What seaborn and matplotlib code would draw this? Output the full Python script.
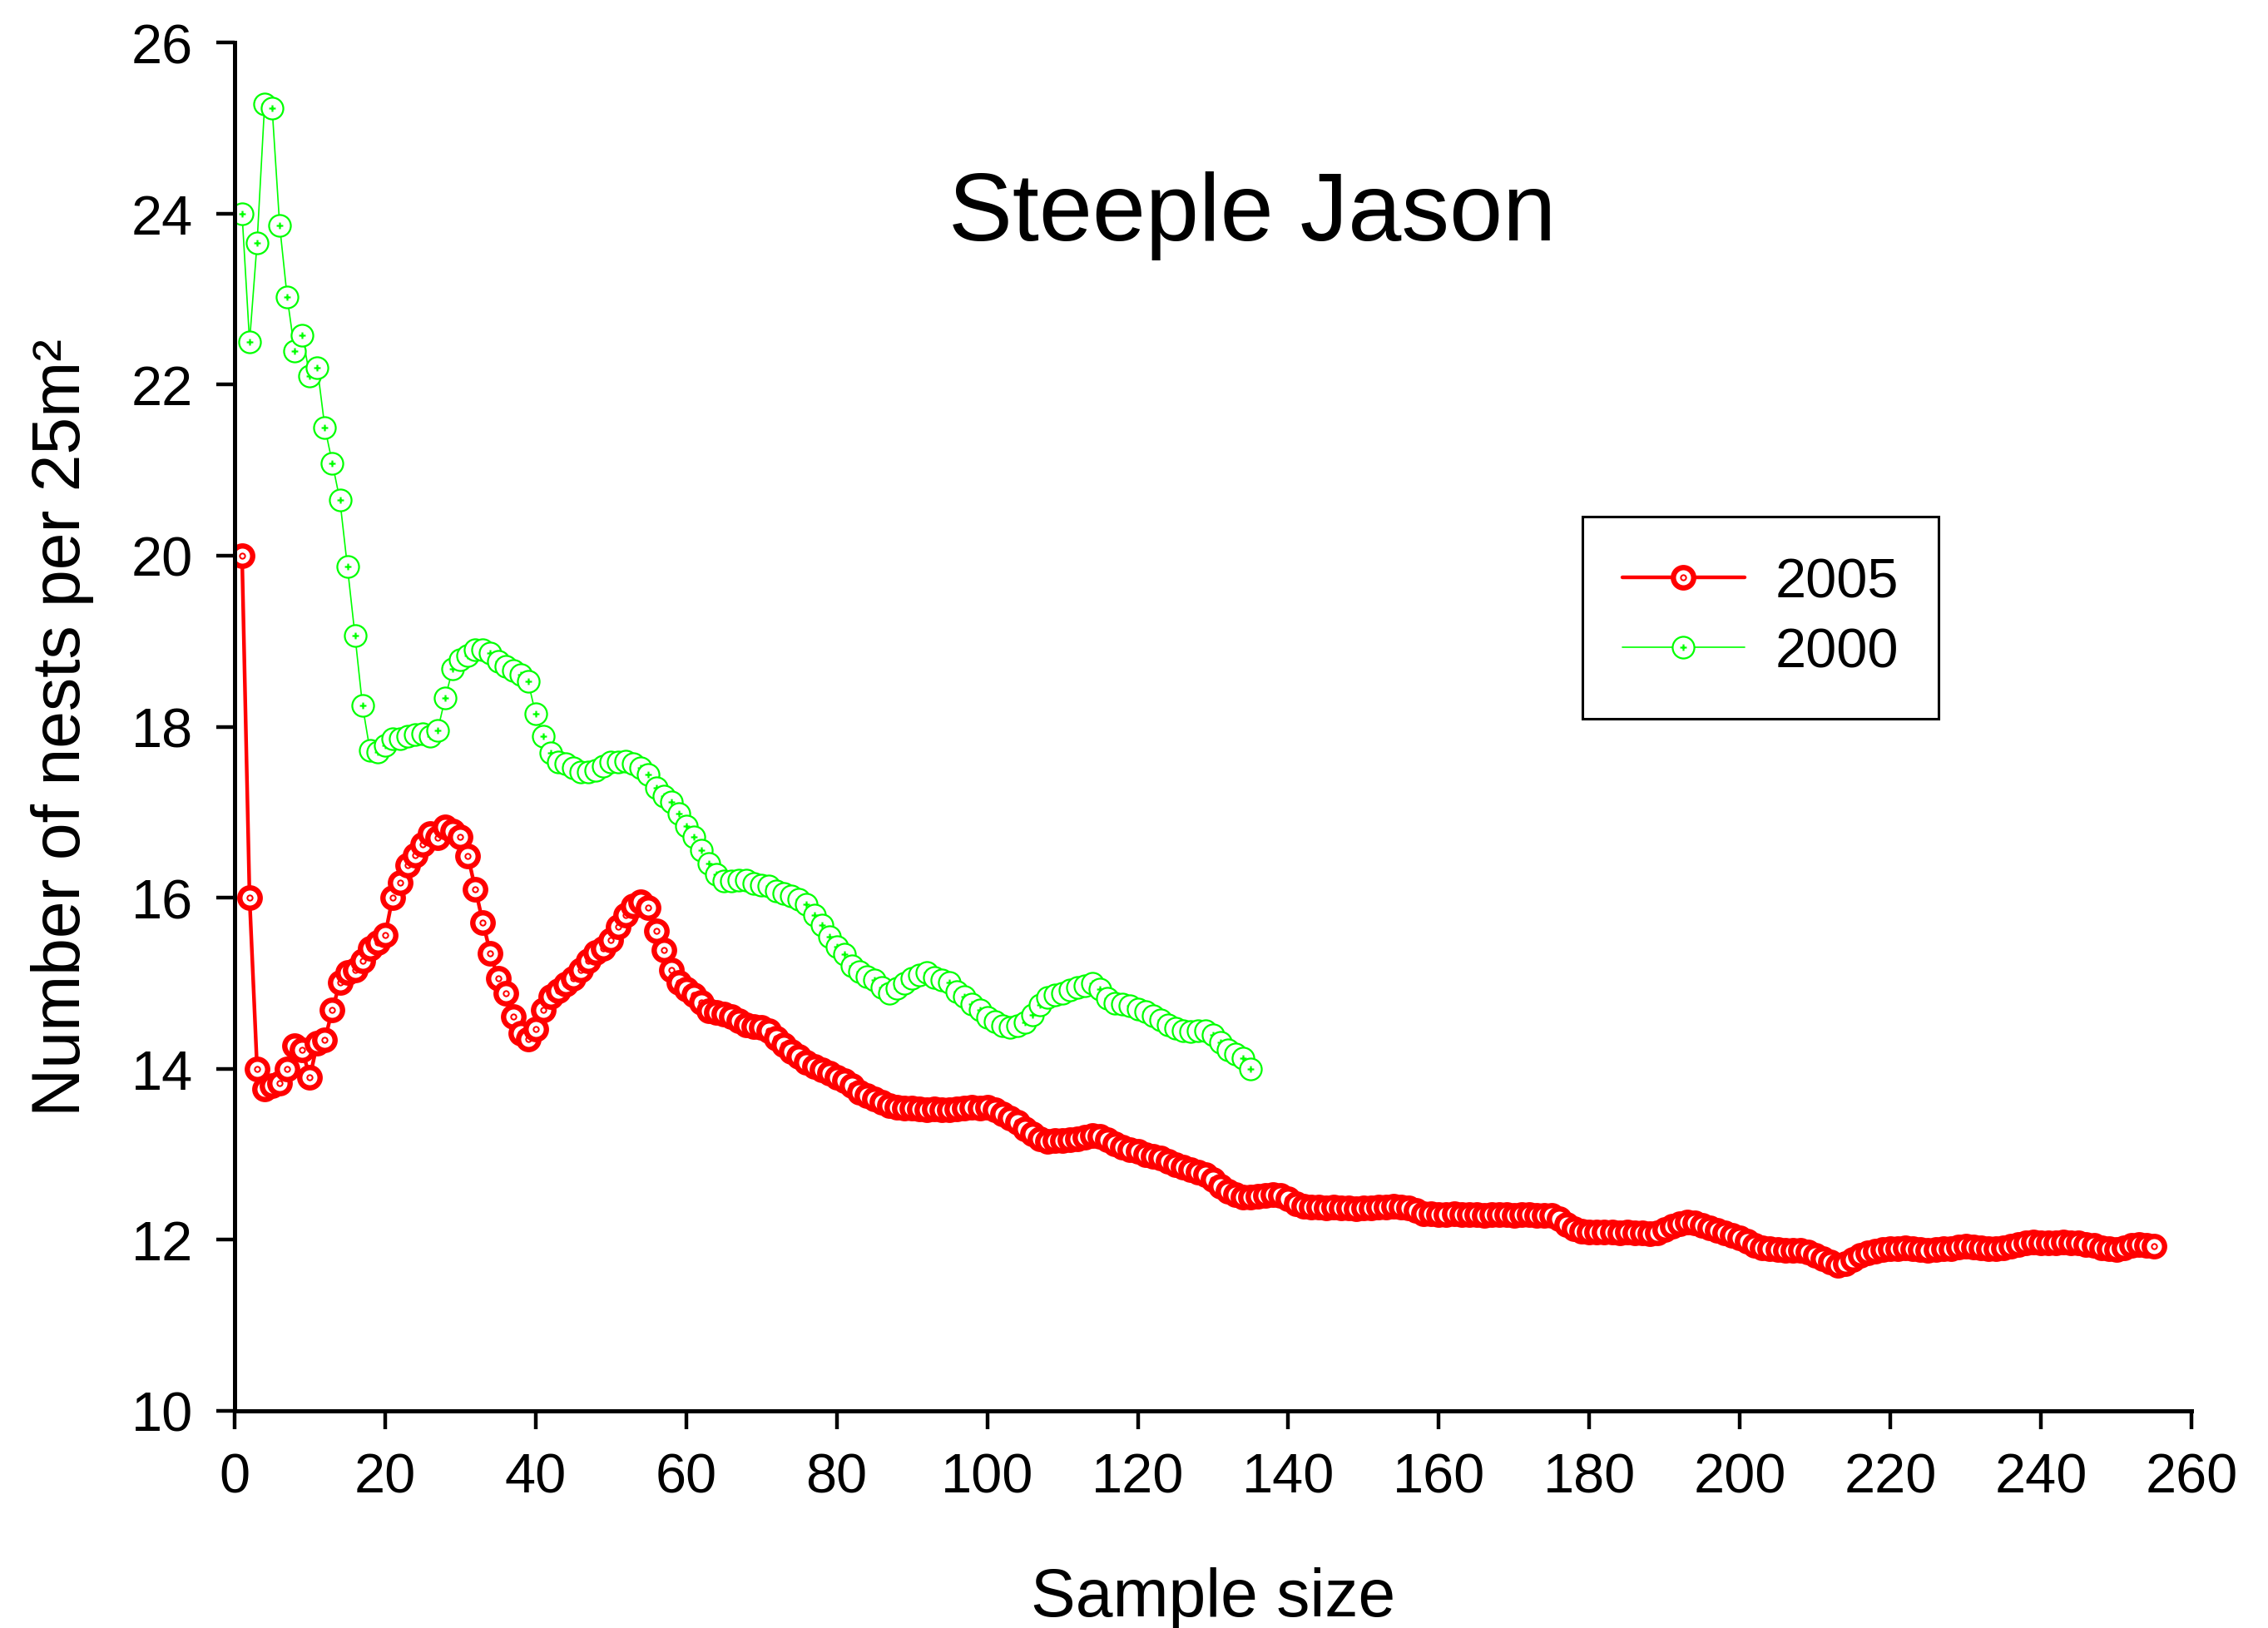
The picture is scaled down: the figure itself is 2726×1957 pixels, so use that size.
import matplotlib
matplotlib.use("Agg")
import numpy as np
import pandas as pd
import matplotlib.pyplot as plt
from matplotlib.path import Path
import seaborn as sns

# %%
# values (cumulative mean density vs sample size)
n_2005 = list(range(1, 256))
nests_2005 = [
    20.0, 16.0, 14.0, 13.76, 13.8, 13.83, 14.0, 14.27, 14.22, 13.9,
    14.3, 14.34, 14.69, 15.01, 15.13, 15.16, 15.26, 15.41, 15.48, 15.56,
    16.0, 16.18, 16.38, 16.5, 16.62, 16.75, 16.7, 16.83, 16.78, 16.71,
    16.49, 16.1, 15.71, 15.35, 15.06, 14.88, 14.61, 14.42, 14.35, 14.46,
    14.69, 14.84, 14.91, 14.99, 15.06, 15.16, 15.26, 15.36, 15.41, 15.51,
    15.66, 15.8, 15.9, 15.95, 15.88, 15.61, 15.39, 15.16, 15.01, 14.93,
    14.86, 14.78, 14.68, 14.66, 14.64, 14.61, 14.56, 14.51, 14.49, 14.48,
    14.45, 14.36, 14.28, 14.2, 14.14, 14.08, 14.03, 13.99, 13.95, 13.9,
    13.86, 13.8, 13.73, 13.69, 13.65, 13.61, 13.57, 13.55, 13.54, 13.54,
    13.53, 13.52, 13.53, 13.52, 13.52, 13.53, 13.54, 13.55, 13.54, 13.55,
    13.52, 13.47, 13.42, 13.38, 13.3, 13.24, 13.18, 13.15, 13.16, 13.16,
    13.17, 13.18, 13.2, 13.22, 13.21, 13.17, 13.12, 13.08, 13.05, 13.03,
    13.0, 12.98, 12.96, 12.92, 12.88, 12.85, 12.82, 12.79, 12.76, 12.7,
    12.63, 12.57, 12.53, 12.5, 12.5, 12.51, 12.52, 12.53, 12.52, 12.48,
    12.42, 12.39, 12.38, 12.38, 12.37, 12.38, 12.37, 12.37, 12.36, 12.37,
    12.37, 12.38, 12.38, 12.39, 12.38, 12.37, 12.34, 12.31, 12.31, 12.3,
    12.3, 12.31, 12.3, 12.3, 12.3, 12.29, 12.3, 12.3, 12.3, 12.29,
    12.3, 12.3, 12.29, 12.29, 12.29, 12.25, 12.18, 12.13, 12.1, 12.09,
    12.09, 12.09, 12.09, 12.08, 12.09, 12.08, 12.08, 12.07, 12.08, 12.12,
    12.16, 12.19, 12.21, 12.2, 12.17, 12.14, 12.11, 12.08, 12.05, 12.02,
    11.98, 11.94, 11.91, 11.9, 11.89, 11.88, 11.88, 11.88, 11.86, 11.82,
    11.78, 11.74, 11.7, 11.72, 11.77, 11.82, 11.85, 11.87, 11.89, 11.9,
    11.9, 11.91, 11.9, 11.89, 11.88, 11.89, 11.9, 11.9, 11.92, 11.93,
    11.92, 11.91, 11.9, 11.9, 11.91, 11.93, 11.95, 11.96, 11.97, 11.96,
    11.96, 11.96, 11.97, 11.96, 11.96, 11.95, 11.94, 11.91, 11.9, 11.89,
    11.91, 11.94, 11.95, 11.94, 11.93,
]
n_2000 = list(range(1, 136))
nests_2000 = [
    24.0, 22.5, 23.66, 25.28, 25.23, 23.86, 23.02, 22.39, 22.58, 22.1,
    22.2, 21.5, 21.08, 20.65, 19.87, 19.07, 18.25, 17.72, 17.7, 17.78,
    17.86, 17.86, 17.89, 17.91, 17.92, 17.89, 17.96, 18.34, 18.68, 18.78,
    18.83, 18.9, 18.9, 18.86, 18.76, 18.71, 18.66, 18.61, 18.53, 18.15,
    17.89, 17.69, 17.59, 17.57, 17.52, 17.47, 17.47, 17.49, 17.54, 17.59,
    17.59, 17.6, 17.57, 17.52, 17.44, 17.29, 17.19, 17.12, 16.98, 16.84,
    16.71, 16.56, 16.4, 16.27, 16.2, 16.2, 16.21, 16.21, 16.17, 16.15,
    16.14, 16.08, 16.05, 16.02, 15.98, 15.92, 15.8, 15.68, 15.54, 15.43,
    15.34, 15.2, 15.14, 15.08, 15.04, 14.95, 14.88, 14.94, 15.0, 15.06,
    15.1, 15.13, 15.07, 15.04, 15.01, 14.9, 14.84, 14.76, 14.69, 14.6,
    14.55, 14.5, 14.48, 14.5, 14.54, 14.63, 14.75, 14.83, 14.86, 14.88,
    14.92, 14.95, 14.97, 15.0, 14.93, 14.82, 14.77, 14.76, 14.74, 14.7,
    14.67, 14.62, 14.57, 14.51, 14.47, 14.45, 14.44, 14.45, 14.45, 14.4,
    14.31, 14.22, 14.17, 14.12, 14.0,
]
x_ticks = list(range(0, 261, 20))
y_ticks = list(range(10, 27, 2))

df_2005 = pd.DataFrame({"n": n_2005, "nests": nests_2005})
df_2000 = pd.DataFrame({"n": n_2000, "nests": nests_2000})

# %%
sns.set_style("ticks")
plt.rcParams["font.family"] = ["Liberation Sans", "DejaVu Sans"]
plt.rcParams["text.color"] = "black"
plt.rcParams["axes.labelcolor"] = "black"
plt.rcParams["axes.edgecolor"] = "black"
plt.rcParams["xtick.color"] = "black"
plt.rcParams["ytick.color"] = "black"

# marker: open circle with a dot / open circle with a cross
circle = Path.unit_circle()
marker_dot = Path.make_compound_path(circle, Path.circle((0, 0), 0.08))
marker_plus = Path.make_compound_path(
    circle,
    Path([[-0.3, 0], [0.3, 0], [0, -0.3], [0, 0.3]],
         [Path.MOVETO, Path.LINETO, Path.MOVETO, Path.LINETO]),
)

fig = plt.figure(figsize=(13.63, 9.79), dpi=200)
ax = fig.add_axes([0.1034, 0.1333, 0.8629, 0.8401])

sns.lineplot(
    data=df_2005, x="n", y="nests",
    estimator=None, errorbar=None,
    color="#ff0000", linewidth=1.6,
    marker=marker_dot, markersize=8.8,
    markerfacecolor="white", markeredgecolor="#ff0000", markeredgewidth=2.3,
    label="2005", ax=ax,
)
sns.lineplot(
    data=df_2000, x="n", y="nests",
    estimator=None, errorbar=None,
    color="#00ff00", linewidth=0.6,
    marker=marker_plus, markersize=9.4,
    markerfacecolor="white", markeredgecolor="#00ff00", markeredgewidth=0.8,
    label="2000", ax=ax,
)

ax.set_xlim(0, 260)
ax.set_ylim(10, 26)
ax.set_xticks(x_ticks)
ax.set_yticks(y_ticks)
sns.despine(ax=ax)
for side in ["left", "bottom"]:
    ax.spines[side].set_linewidth(1.8)
ax.tick_params(direction="out", length=8, width=1.6, labelsize=24, pad=10)

ax.set_xlabel("Sample size", fontsize=29, labelpad=27)
ax.set_ylabel("Number of nests per 25m²", fontsize=29, labelpad=16)

ax.text(135.2, 23.7, "Steeple Jason", fontsize=41.5, ha="center", va="baseline")

leg = ax.legend(
    loc="upper left",
    bbox_to_anchor=(0.6977, 0.6823),
    bbox_transform=fig.transFigure,
    borderaxespad=0,
    fontsize=24,
    frameon=True,
    fancybox=False,
    shadow=False,
    edgecolor="black",
    borderpad=0.72,
    handlelength=2.2,
    handletextpad=0.55,
    labelspacing=0.34,
)
leg.get_frame().set_linewidth(1.1)
leg.get_frame().set_alpha(1)

plt.savefig("out.png", dpi=200)
